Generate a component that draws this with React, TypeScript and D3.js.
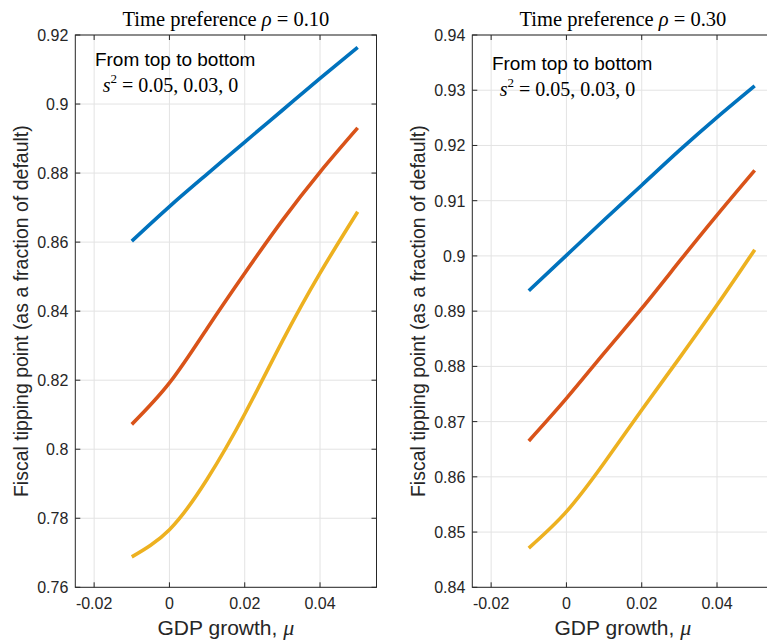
import React from "react";
import * as d3 from "d3";

const muValues = [-0.01, 0, 0.01, 0.02, 0.03, 0.04, 0.05];

// Panel 1: rho = 0.10
const rho10High = [0.8603, 0.8703, 0.8797, 0.889, 0.8982, 0.9074, 0.9164];
const rho10Mid = [0.8072, 0.8192, 0.835, 0.851, 0.8663, 0.8803, 0.8931];
const rho10Low = [0.7688, 0.7767, 0.7913, 0.8102, 0.8313, 0.851, 0.8688];

// Panel 2: rho = 0.30
const rho30High = [0.8937, 0.9001, 0.9065, 0.9128, 0.9191, 0.9251, 0.9308];
const rho30Mid = [0.8665, 0.8742, 0.8824, 0.8905, 0.899, 0.9074, 0.9155];
const rho30Low = [0.8471, 0.8537, 0.8625, 0.8721, 0.8815, 0.8911, 0.9011];

const xTicks = [-0.02, 0, 0.02, 0.04];
const xTickLabels = ["-0.02", "0", "0.02", "0.04"];
const yTicks10 = [0.76, 0.78, 0.8, 0.82, 0.84, 0.86, 0.88, 0.9, 0.92];
const yTicks30 = [0.84, 0.85, 0.86, 0.87, 0.88, 0.89, 0.9, 0.91, 0.92, 0.93, 0.94];

const seriesColors = ["#0072BD", "#D95319", "#EDB120"];

const W = 767;
const H = 641;
const AX = "#262626";
const GRID = "#e3e3e3";
const SANS = "'Liberation Sans', Arial, sans-serif";
const SERIF = "'Liberation Serif', 'DejaVu Serif', serif";

type PanelProps = {
  left: number;
  top: number;
  width: number;
  height: number;
  yDomain: [number, number];
  yTicks: number[];
  series: number[][];
  rhoLabel: string;
  noteY: number;
};

function fmt(v: number) {
  const s = d3.format(".2f")(v);
  return s.replace(/0$/, "").replace(/\.$/, "");
}

function Panel({ left, top, width, height, yDomain, yTicks, series, rhoLabel, noteY }: PanelProps) {
  const x = d3.scaleLinear().domain([-0.025, 0.055]).range([left, left + width]);
  const y = d3.scaleLinear().domain(yDomain).range([top + height, top]);
  const line = d3
    .line<number>()
    .x((_, i) => x(muValues[i]))
    .y((d) => y(d))
    .curve(d3.curveNatural);
  const right = left + width;
  const bottom = top + height;
  const tl = 5;
  const cx = left + width / 2;
  return (
    <g>
      {xTicks.map((t) => (
        <line key={"gx" + t} x1={x(t)} x2={x(t)} y1={top} y2={bottom} stroke={GRID} strokeWidth={1} />
      ))}
      {yTicks.map((t) => (
        <line key={"gy" + t} x1={left} x2={right} y1={y(t)} y2={y(t)} stroke={GRID} strokeWidth={1} />
      ))}
      {series.map((s, i) => (
        <path key={"s" + i} d={line(s) || ""} fill="none" stroke={seriesColors[i]} strokeWidth={3.6} />
      ))}
      <rect x={left} y={top} width={width} height={height} fill="none" stroke={AX} strokeWidth={1} />
      {xTicks.map((t) => (
        <g key={"tx" + t}>
          <line x1={x(t)} x2={x(t)} y1={bottom} y2={bottom - tl} stroke={AX} />
          <line x1={x(t)} x2={x(t)} y1={top} y2={top + tl} stroke={AX} />
        </g>
      ))}
      {yTicks.map((t) => (
        <g key={"ty" + t}>
          <line x1={left} x2={left + tl} y1={y(t)} y2={y(t)} stroke={AX} />
          <line x1={right} x2={right - tl} y1={y(t)} y2={y(t)} stroke={AX} />
        </g>
      ))}
      {xTicks.map((t, i) => (
        <text key={"lx" + t} x={x(t)} y={bottom + 22} textAnchor="middle" fontFamily={SANS} fontSize={16} fill={AX}>
          {xTickLabels[i]}
        </text>
      ))}
      {yTicks.map((t) => (
        <text key={"ly" + t} x={left - 7} y={y(t) + 6} textAnchor="end" fontFamily={SANS} fontSize={16} fill={AX}>
          {fmt(t)}
        </text>
      ))}
      <text x={cx} y={top - 9} textAnchor="middle" fontFamily={SERIF} fontSize={20.5} fill="#000">
        Time preference <tspan fontStyle="italic">ρ</tspan> = {rhoLabel}
      </text>
      <text x={cx} y={bottom + 48} textAnchor="middle" fontFamily={SANS} fontSize={21} fill={AX}>
        GDP growth,{" "}
        <tspan fontFamily={SERIF} fontStyle="italic" fontSize={22}>
          μ
        </tspan>
      </text>
      <text
        transform={`translate(${left - 47},${top + height / 2}) rotate(-90)`}
        textAnchor="middle"
        fontFamily={SANS}
        fontSize={19.5}
        fill={AX}
      >
        Fiscal tipping point (as a fraction of default)
      </text>
      <text x={x(-0.0198)} y={noteY} fontFamily={SANS} fontSize={19} fill="#000">
        From top to bottom
      </text>
      <text x={x(-0.0177)} y={noteY + 26} fontFamily={SERIF} fontSize={20} fill="#000">
        <tspan fontStyle="italic">s</tspan>
        <tspan fontSize={13} dy={-9}>2</tspan>
        <tspan dy={9}> = 0.05, 0.03, 0</tspan>
      </text>
    </g>
  );
}

export default function App() {
  return (
    <svg
      width={W}
      height={H}
      viewBox={`0 0 ${W} ${H}`}
      style={{ position: "absolute", left: 0, top: 0, background: "#fff" }}
    >
      <rect width={W} height={H} fill="#fff" />
      <Panel
        left={75.3}
        top={35}
        width={301.2}
        height={552.3}
        yDomain={[0.76, 0.92]}
        yTicks={yTicks10}
        series={[rho10High, rho10Mid, rho10Low]}
        rhoLabel="0.10"
        noteY={66}
      />
      <Panel
        left={472.3}
        top={35}
        width={301.2}
        height={552.3}
        yDomain={[0.84, 0.94]}
        yTicks={yTicks30}
        series={[rho30High, rho30Mid, rho30Low]}
        rhoLabel="0.30"
        noteY={70}
      />
    </svg>
  );
}
